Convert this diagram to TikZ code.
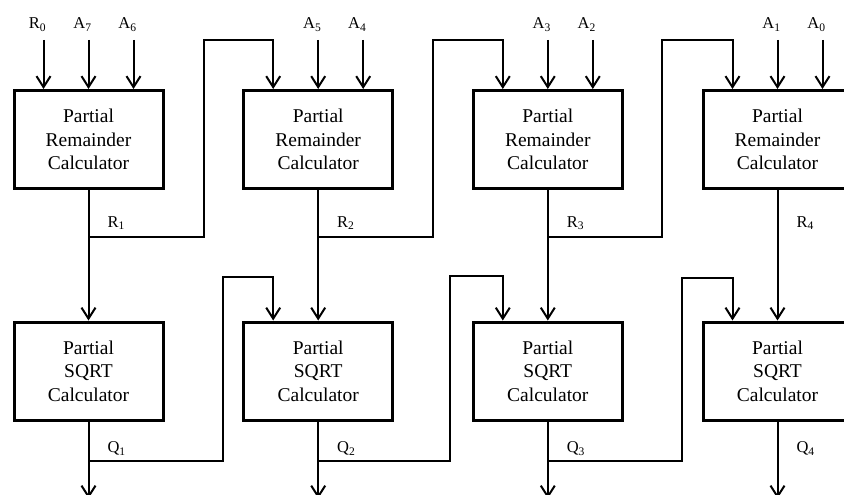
\documentclass[tikz,border=0pt]{standalone}
\usepackage{fontspec}
\setmainfont{Liberation Serif}
\usetikzlibrary{calc}
\usetikzlibrary{arrows.meta}

\begin{document}
\begin{tikzpicture}[x=1pt, y=-1pt, line width=2pt,
  >={Straight Barb[length=11pt,width=14pt]},
  blk/.style={draw, line width=3pt, minimum width=149, minimum height=98, inner sep=0pt,
    align=center, font=\fontsize{19.5}{23.5}\selectfont},
  lbl/.style={font=\fontsize{16.5}{18}\selectfont, inner sep=0pt}]
\useasboundingbox (0,0) rectangle (844,495);
% the two rows of blocks
\foreach \i/\x in {1/88.5, 2/318.2, 3/547.8, 4/777.5} {
  \node[blk] (prc\i) at (\x,139.5) {Partial\\Remainder\\Calculator};
  \node[blk] (sqc\i) at (\x,371) {Partial\\SQRT\\Calculator};
}
% inputs on top
\foreach \n/\t/\x/\b in {R0/R\textsubscript{0}/43.5/1, A7/A\textsubscript{7}/88.5/1, A6/A\textsubscript{6}/133.5/1,
    A5/A\textsubscript{5}/318.2/2, A4/A\textsubscript{4}/363.2/2, A3/A\textsubscript{3}/547.8/3,
    A2/A\textsubscript{2}/592.8/3, A1/A\textsubscript{1}/777.5/4, A0/A\textsubscript{0}/822.5/4} {
  \node[lbl, anchor=base] (l\n) at (\x-6,29) {\t};
  \coordinate (i\n) at (\x,40);
  \draw[->] (i\n) -- (i\n |- prc\b.north);
}
% remainder and root outputs
\foreach \i in {1,...,4} {
  \draw[->] (prc\i.south) -- (sqc\i.north);
  \node[lbl, anchor=base west] (lR\i) at ($(prc\i.south)+(18,37)$) {R\textsubscript{\i}};
  \coordinate (o\i) at ($(sqc\i.south)+(0,77)$);
  \draw[->] (sqc\i.south) -- (o\i);
  \node[lbl, anchor=base west] (lQ\i) at ($(sqc\i.south)+(18,31)$) {Q\textsubscript{\i}};
}
% remainder passed to next block
\foreach \i/\j/\xr in {1/2/204, 2/3/433, 3/4/662} {
  \coordinate (rt\i) at (prc\i.south |- 0,236.5);
  \coordinate (rf\j) at ($(prc\j.north)+(-45,0)$);
  \coordinate (rk\j) at (rf\j |- 0,40);
  \draw[->] (rt\i) -| (\xr,40) -- (rk\j) -- (rf\j);
}
% root passed to next block
\foreach \i/\j/\xq/\yq in {1/2/223/277, 2/3/450/275.5, 3/4/682/278} {
  \coordinate (qt\i) at (sqc\i.south |- 0,460.5);
  \coordinate (qf\j) at ($(sqc\j.north)+(-45,0)$);
  \coordinate (qk\j) at (qf\j |- 0,\yq);
  \draw[->] (qt\i) -| (\xq,\yq) -- (qk\j) -- (qf\j);
}
\end{tikzpicture}
\end{document}
